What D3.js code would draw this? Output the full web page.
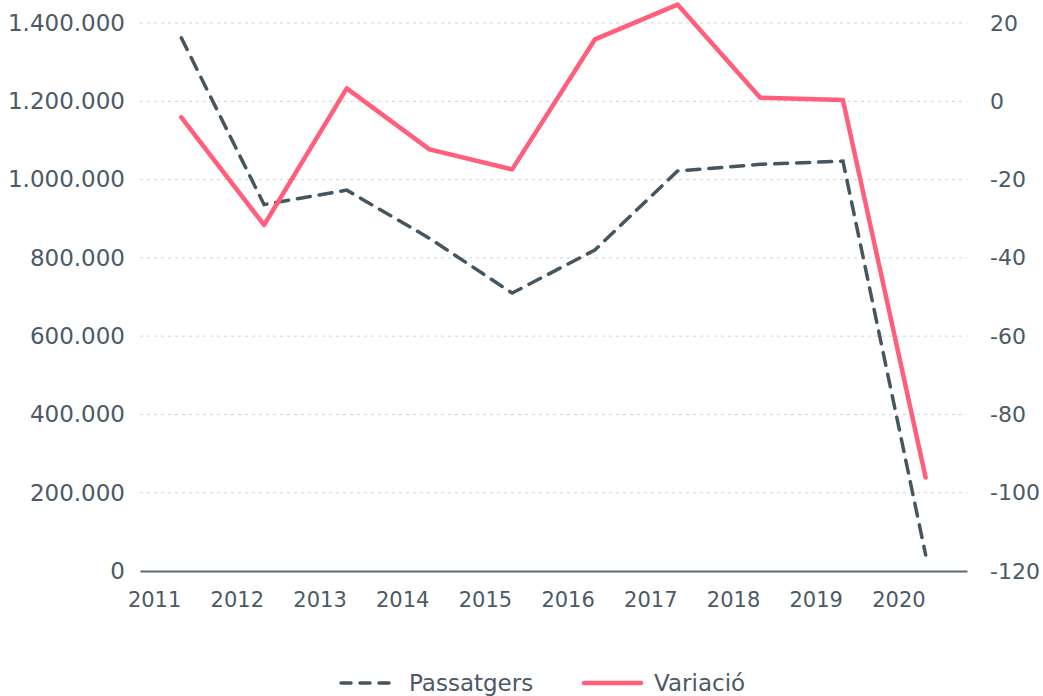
<!DOCTYPE html>
<meta charset="utf-8">
<title>Passatgers i variació</title>
<style>
body { margin: 0; background: #fff; }
text { font-family: "DejaVu Sans", "Open Sans", sans-serif; fill: #4b5a66; }
</style>
<script src="https://d3js.org/d3.v7.min.js"></script>
<div id="chart"></div>
<script>
// data
var years = ["2011", "2012", "2013", "2014", "2015", "2016", "2017", "2018", "2019", "2020"];
var passatgers = [1362000, 936000, 973000, 850000, 710000, 820000, 1022000, 1039000, 1047000, 41000];
var variacio = [-4.1, -31.6, 3.3, -12.3, -17.4, 15.8, 24.7, 0.9, 0.3, -96.1];
var leftTicks = [0, 200000, 400000, 600000, 800000, 1000000, 1200000, 1400000];
var rightTicks = [-120, -100, -80, -60, -40, -20, 0, 20];

var W = 1043, H = 696;
var margin = {top: 23, right: 76, bottom: 125, left: 140},
  width = W - margin.left - margin.right,
  height = H - margin.top - margin.bottom;

var svg = d3.select("#chart").append("svg")
  .attr("width", W).attr("height", H)
  .append("g")
  .attr("transform", "translate(" + margin.left + "," + margin.top + ")");

var x = d3.scaleBand().domain(years).range([0, width]);
var yL = d3.scaleLinear().domain([0, 1400000]).range([height, 0]);
var yR = d3.scaleLinear().domain([-120, 20]).range([height, 0]);

// thousands with dots, plain hyphen for negatives
var fmt = d3.formatLocale({decimal: ",", thousands: ".", grouping: [3], currency: ["", ""], minus: "-"}).format(",.0f");

// gridlines
svg.append("g")
  .selectAll("line")
  .data(leftTicks.filter(function(d) { return d > 0; }))
  .enter().append("line")
    .attr("x1", 0).attr("x2", width)
    .attr("y1", function(d) { return yL(d); })
    .attr("y2", function(d) { return yL(d); })
    .style("stroke", "#cdd5dc")
    .style("stroke-width", 1)
    .style("stroke-dasharray", "3,4");

// left axis
var gl = svg.append("g").call(d3.axisLeft(yL).tickValues(leftTicks).tickFormat(fmt).tickSize(0).tickPadding(15));
gl.select(".domain").remove();
gl.selectAll("text").style("font-size", "23px").attr("fill", "#4b5a66");

// right axis
var gr = svg.append("g").attr("transform", "translate(" + width + ",0)")
  .call(d3.axisRight(yR).tickValues(rightTicks).tickFormat(fmt).tickSize(0).tickPadding(23));
gr.select(".domain").remove();
gr.selectAll("text").style("font-size", "22px").attr("fill", "#4b5a66");

// bottom axis
var gb = svg.append("g").attr("transform", "translate(0," + height + ")")
  .call(d3.axisBottom(x).tickSize(0).tickPadding(21));
gb.select(".domain").style("stroke", "#5b6a75").style("stroke-width", 2);
gb.selectAll("text")
  .style("font-size", "21px")
  .style("text-anchor", "end")
  .attr("fill", "#4b5a66");

// lines
var lineL = d3.line()
  .x(function(d, i) { return x(years[i]) + x.bandwidth() / 2; })
  .y(function(d) { return yL(d); });
var lineR = d3.line()
  .x(function(d, i) { return x(years[i]) + x.bandwidth() / 2; })
  .y(function(d) { return yR(d); });

svg.append("path")
  .datum(passatgers)
  .attr("d", lineL)
  .style("fill", "none")
  .style("stroke", "#465661")
  .style("stroke-width", 3.5)
  .style("stroke-dasharray", "13,9")
  .style("stroke-linecap", "round");

svg.append("path")
  .datum(variacio)
  .attr("d", lineR)
  .style("fill", "none")
  .style("stroke", "#ff5f7a")
  .style("stroke-width", 4.5)
  .style("stroke-linejoin", "round")
  .style("stroke-linecap", "round");

// legend
var legend = d3.select("svg").append("g").attr("transform", "translate(0,683)");
legend.append("line")
  .attr("x1", 341).attr("x2", 397).attr("y1", 0).attr("y2", 0)
  .style("stroke", "#465661").style("stroke-width", 3.5)
  .style("stroke-dasharray", "10,9").style("stroke-linecap", "round");
legend.append("text").attr("x", 409).attr("y", 0).attr("dy", "0.35em")
  .style("font-size", "23px").text("Passatgers");
legend.append("line")
  .attr("x1", 584).attr("x2", 641).attr("y1", 0).attr("y2", 0)
  .style("stroke", "#ff5f7a").style("stroke-width", 4.5)
  .style("stroke-linecap", "round");
legend.append("text").attr("x", 654).attr("y", 0).attr("dy", "0.35em")
  .style("font-size", "23px").text("Variació");
</script>
